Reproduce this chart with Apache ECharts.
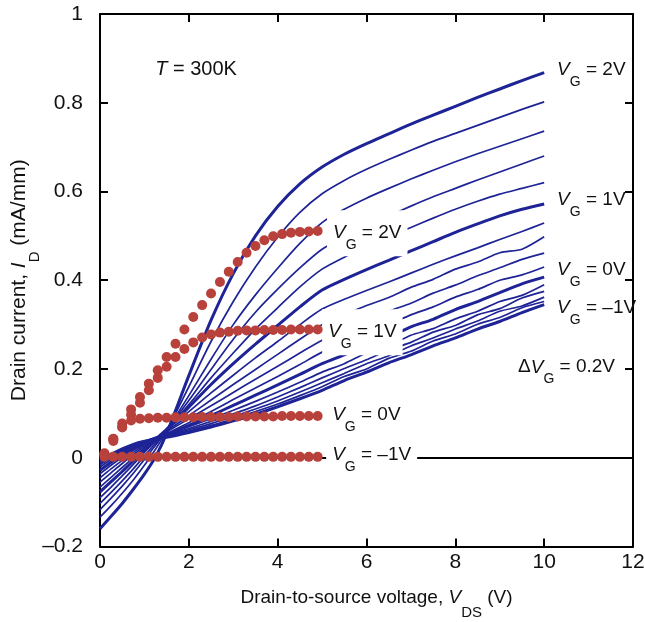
<!DOCTYPE html>
<html><head><meta charset="utf-8">
<script src="https://cdn.jsdelivr.net/npm/echarts@6/dist/echarts.min.js"></script>
<style>html,body{margin:0;padding:0;background:#fff}#c{width:645px;height:622px}</style>
</head><body><div id="c"></div>
<script>
// ---- data ----
const xTicks = [0, 2, 4, 6, 8, 10, 12];
const yTicks = [-0.2, 0, 0.2, 0.4, 0.6, 0.8, 1];
const vds = [0,0.25,0.5,0.75,1,1.25,1.5,2,2.5,3,3.5,4,4.5,5,5.5,6,6.5,7,7.5,8,8.5,9,9.5,10];
const vgLevels = [2.0,1.8,1.6,1.4,1.2,1.0,0.8,0.6,0.4,0.2,0.0,-0.2,-0.4,-0.6,-0.8,-1.0];
const thickLevels = [2.0,1.0,0.0,-1.0];
const id_vg2_0 = [-0.160,-0.132,-0.103,-0.071,-0.037,0.002,0.055,0.185,0.310,0.415,0.500,0.566,0.617,0.655,0.684,0.708,0.730,0.752,0.772,0.792,0.812,0.831,0.850,0.868];
const id_vg1_8 = [-0.134,-0.108,-0.080,-0.050,-0.017,0.019,0.060,0.160,0.262,0.352,0.430,0.497,0.553,0.595,0.625,0.650,0.672,0.693,0.713,0.731,0.749,0.767,0.785,0.802];
const id_vg1_6 = [-0.117,-0.091,-0.064,-0.035,-0.004,0.028,0.062,0.140,0.222,0.300,0.367,0.427,0.483,0.530,0.560,0.585,0.607,0.628,0.648,0.667,0.685,0.702,0.719,0.736];
const id_vg1_4 = [-0.103,-0.078,-0.052,-0.025,0.004,0.033,0.063,0.129,0.199,0.267,0.328,0.380,0.428,0.470,0.497,0.522,0.545,0.567,0.588,0.607,0.626,0.644,0.662,0.680];
const id_vg1_2 = [-0.090,-0.066,-0.041,-0.015,0.012,0.038,0.064,0.120,0.180,0.236,0.290,0.338,0.385,0.425,0.452,0.476,0.498,0.519,0.540,0.560,0.578,0.594,0.607,0.620];
const id_vg1_0 = [-0.077,-0.054,-0.031,-0.007,0.017,0.041,0.064,0.114,0.165,0.212,0.256,0.298,0.340,0.378,0.402,0.424,0.445,0.466,0.487,0.508,0.527,0.545,0.560,0.572];
const id_vg0_8 = [-0.066,-0.044,-0.022,0.000,0.022,0.043,0.063,0.104,0.146,0.186,0.225,0.262,0.300,0.335,0.357,0.377,0.396,0.416,0.436,0.455,0.473,0.492,0.510,0.529];
const id_vg0_6 = [-0.055,-0.034,-0.013,0.007,0.026,0.044,0.060,0.095,0.130,0.165,0.199,0.233,0.267,0.300,0.322,0.343,0.361,0.384,0.402,0.425,0.441,0.462,0.470,0.498];
const id_vg0_4 = [-0.045,-0.025,-0.006,0.012,0.029,0.044,0.058,0.088,0.117,0.147,0.177,0.206,0.236,0.265,0.287,0.307,0.330,0.348,0.371,0.389,0.410,0.428,0.447,0.461];
const id_vg0_2 = [-0.036,-0.017,0.001,0.017,0.031,0.043,0.054,0.079,0.104,0.131,0.157,0.183,0.210,0.238,0.258,0.281,0.300,0.322,0.340,0.362,0.379,0.400,0.412,0.430];
const id_vg0_0 = [-0.028,-0.010,0.007,0.021,0.033,0.043,0.052,0.073,0.095,0.118,0.141,0.164,0.188,0.212,0.232,0.254,0.272,0.295,0.312,0.334,0.352,0.372,0.392,0.407];
const id_vgm0_2 = [-0.021,-0.004,0.012,0.026,0.037,0.046,0.053,0.070,0.088,0.107,0.127,0.148,0.170,0.193,0.212,0.236,0.252,0.276,0.291,0.313,0.330,0.352,0.366,0.390];
const id_vgm0_4 = [-0.016,0.000,0.015,0.027,0.037,0.045,0.051,0.066,0.082,0.099,0.117,0.137,0.158,0.180,0.201,0.221,0.243,0.260,0.283,0.298,0.322,0.336,0.360,0.375];
const id_vgm0_6 = [-0.012,0.003,0.017,0.028,0.037,0.044,0.050,0.063,0.077,0.093,0.110,0.128,0.148,0.169,0.190,0.212,0.230,0.252,0.270,0.290,0.308,0.330,0.342,0.362];
const id_vgm0_8 = [-0.008,0.006,0.019,0.029,0.037,0.043,0.048,0.060,0.073,0.088,0.104,0.121,0.140,0.160,0.183,0.200,0.224,0.240,0.263,0.279,0.301,0.316,0.338,0.352];
const id_vgm1_0 = [-0.005,0.008,0.020,0.030,0.037,0.042,0.046,0.057,0.069,0.083,0.098,0.115,0.133,0.152,0.174,0.193,0.214,0.232,0.252,0.270,0.290,0.307,0.327,0.345];
const measured = [id_vg2_0,id_vg1_8,id_vg1_6,id_vg1_4,id_vg1_2,id_vg1_0,id_vg0_8,id_vg0_6,id_vg0_4,id_vg0_2,id_vg0_0,id_vgm0_2,id_vgm0_4,id_vgm0_6,id_vgm0_8,id_vgm1_0];

const dotVds = [0.1,0.3,0.5,0.7,0.9,1.1,1.3,1.5,1.7,1.9,2.1,2.3,2.5,2.7,2.9,3.1,3.3,3.5,3.7,3.9,4.1,4.3,4.5,4.7,4.9];
const model_vg2 = [0.010,0.043,0.077,0.109,0.137,0.167,0.197,0.227,0.257,0.289,0.317,0.344,0.370,0.396,0.419,0.441,0.462,0.477,0.490,0.499,0.504,0.507,0.509,0.510,0.511];
const model_vg1 = [0.008,0.038,0.068,0.097,0.124,0.152,0.180,0.205,0.227,0.245,0.260,0.271,0.278,0.282,0.284,0.286,0.287,0.287,0.288,0.288,0.288,0.289,0.289,0.289,0.289];
const model_vg0 = [0.008,0.042,0.070,0.084,0.088,0.089,0.090,0.090,0.091,0.091,0.091,0.092,0.092,0.092,0.092,0.093,0.093,0.093,0.093,0.093,0.094,0.094,0.094,0.094,0.094];
const model_vgm1 = [0.002,0.002,0.002,0.002,0.002,0.002,0.002,0.002,0.002,0.002,0.002,0.002,0.002,0.002,0.002,0.002,0.002,0.002,0.002,0.002,0.002,0.002,0.002,0.002,0.002];
const models = [model_vg2, model_vg1, model_vg0, model_vgm1];

// annotation texts and anchor positions (data coords)
const annoText = ['{t|T}{u| = 300K}',
  '{i|V}{s|G}{n| = 2V}','{i|V}{s|G}{n| = 1V}','{i|V}{s|G}{n| = 0V}','{i|V}{s|G}{n| = –1V}',
  '{n|Δ}{i|V}{s|G}{n| = 0.2V}'];
const annoX = [1.23, 10.28, 10.28, 10.28, 10.28, 9.40];
const annoY = [0.876, 0.874, 0.581, 0.423, 0.337, 0.204];
const modelLabelText = ['{i|V}{s|G}{n| = 2V}','{i|V}{s|G}{n| = 1V}','{i|V}{s|G}{n| = 0V}','{i|V}{s|G}{n| = –1V}'];
const modelLabelX = [5.10, 4.99, 5.08, 5.08];
const modelLabelY = [0.506, 0.283, 0.096, 0.006];

// ---- styling ----
const FONT = 'Liberation Sans, Arial, Helvetica, sans-serif';
const BLUE = '#1e2396';
const RED = '#b8413c';
const richLbl = {
  n: {fontSize: 19, fontFamily: FONT, color: '#111', lineHeight: 38},
  i: {fontSize: 19, fontFamily: FONT, color: '#111', fontStyle: 'italic', lineHeight: 38},
  t: {fontSize: 20, fontFamily: FONT, color: '#111', fontStyle: 'italic', lineHeight: 24},
  u: {fontSize: 20, fontFamily: FONT, color: '#111', lineHeight: 24},
  s: {fontSize: 14, fontFamily: FONT, color: '#111', lineHeight: 14, verticalAlign: 'bottom'}
};

const series = [];
measured.forEach((arr, k) => {
  const vg = vgLevels[k];
  const thick = thickLevels.some(t => Math.abs(t - vg) < 1e-9);
  series.push({
    type: 'line', name: 'VG ' + vg, z: 2,
    data: vds.map((x, j) => [x, arr[j]]),
    showSymbol: false, smooth: 0.25,
    lineStyle: {color: BLUE, width: thick ? 3 : 1.7},
    markLine: k === measured.length - 1 ? {
      silent: true, symbol: 'none', label: {show: false}, z: 1,
      lineStyle: {color: '#000', width: 2, type: 'solid'},
      data: [{yAxis: 0}]
    } : undefined
  });
});
// annotation labels (plain)
series.push({
  type: 'scatter', z: 3, symbolSize: 1, itemStyle: {color: 'rgba(0,0,0,0)', opacity: 1},
  data: annoText.map((t, k) => ({value: [annoX[k], annoY[k]], label: {show: true, opacity: 1, formatter: t, position: 'right', distance: 0, rich: richLbl}})),
  silent: true
});
// labels for model curves (white boxes)
series.push({
  type: 'scatter', z: 3, symbolSize: 1, itemStyle: {color: 'rgba(0,0,0,0)', opacity: 1},
  data: modelLabelText.map((t, k) => ({value: [modelLabelX[k], modelLabelY[k]], label: {show: true, opacity: 1, formatter: t, position: 'right', distance: 0, backgroundColor: '#ffffff', padding: [4, 6, 4, 6], rich: richLbl}})),
  silent: true
});
models.forEach((arr, k) => {
  series.push({
    type: 'scatter', z: 4, symbol: 'circle', symbolSize: 10,
    itemStyle: {color: RED, opacity: 1},
    data: dotVds.map((x, j) => [x, arr[j]])
  });
});

const axisCommon = {
  axisLine: {onZero: false, lineStyle: {color: '#000', width: 2}},
  axisTick: {inside: true, length: 8, lineStyle: {color: '#000', width: 2}},
  splitLine: {show: false}
};
const fmtY = v => { const r = Math.round(v * 10) / 10; return r < 0 ? '–' + Math.abs(r) : String(r); };
const nameRichX = {
  n: {fontSize: 19, fontFamily: FONT, color: '#111', lineHeight: 45},
  i: {fontSize: 19, fontFamily: FONT, color: '#111', fontStyle: 'italic', lineHeight: 45},
  s: {fontSize: 15, fontFamily: FONT, color: '#111', lineHeight: 15, verticalAlign: 'bottom'}
};
const nameRichY = {
  n: {fontSize: 21, fontFamily: FONT, color: '#111', lineHeight: 45},
  i: {fontSize: 21, fontFamily: FONT, color: '#111', fontStyle: 'italic', lineHeight: 45},
  s: {fontSize: 15, fontFamily: FONT, color: '#111', lineHeight: 15, verticalAlign: 'bottom'}
};

const option = {
  animation: false,
  backgroundColor: '#fff',
  grid: {left: 100, right: 12, top: 14, bottom: 75.5, containLabel: false, outerBoundsMode: 'none'},
  xAxis: [
    Object.assign({type: 'value', position: 'bottom', min: xTicks[0], max: xTicks[xTicks.length - 1], interval: 2,
      axisLabel: {fontSize: 21, fontFamily: FONT, color: '#111', margin: 5},
      name: '{n|Drain-to-source voltage, }{i|V}{s|DS}{n| (V)}', nameLocation: 'middle', nameGap: 29,
      nameTextStyle: {rich: nameRichX, padding: [0, 0, 0, 20]}}, axisCommon),
    Object.assign({type: 'value', position: 'top', min: xTicks[0], max: xTicks[xTicks.length - 1], interval: 2,
      axisLabel: {show: false}}, axisCommon)
  ],
  yAxis: [
    Object.assign({type: 'value', position: 'left', min: yTicks[0], max: yTicks[yTicks.length - 1], interval: 0.2,
      axisLabel: {fontSize: 21, fontFamily: FONT, color: '#111', margin: 17, formatter: fmtY},
      name: '{n|Drain current, }{i|I}{s|D}{n| (mA/mm)}', nameLocation: 'middle', nameGap: 58, nameMoveOverlap: false,
      nameTextStyle: {rich: nameRichY}}, axisCommon),
    Object.assign({type: 'value', position: 'right', min: yTicks[0], max: yTicks[yTicks.length - 1], interval: 0.2,
      axisLabel: {show: false}}, axisCommon)
  ],
  series: series
};
const chart = echarts.init(document.getElementById('c'), null, {renderer: 'canvas'});
chart.setOption(option);
</script></body></html>
